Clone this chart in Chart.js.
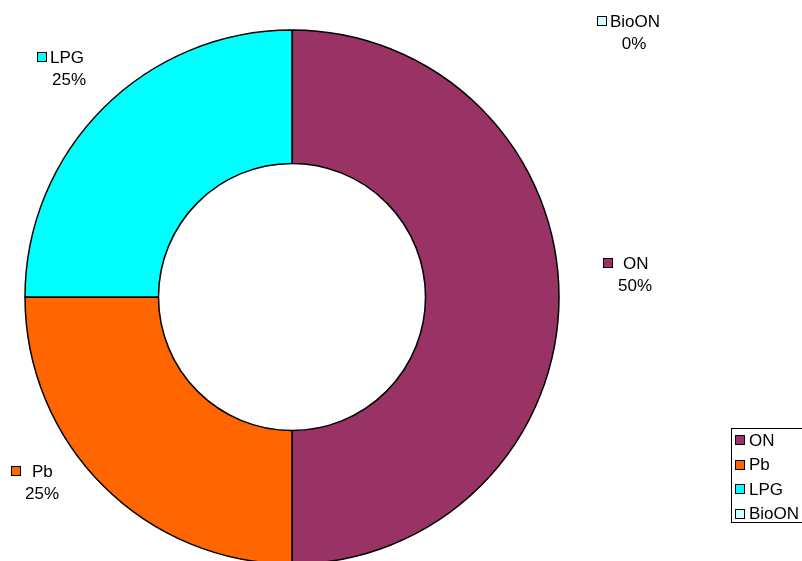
<!DOCTYPE html>
<html>
<head>
<meta charset="utf-8">
<script src="https://cdn.jsdelivr.net/npm/chart.js@4/dist/chart.umd.min.js"></script>
<style>
    html, body { margin: 0; padding: 0; background: #fff; overflow: hidden; }
    canvas { display: block; }
</style>
</head>
<body>
<canvas id="chart1" width="802" height="594"></canvas>
<script>
// fuel shares
var categorias = ['ON', 'Pb', 'LPG', 'BioON'];
var porcentajes = [50, 25, 25, 0];
var colores = ['#993366', '#FF6600', '#00FFFF', '#CCFFFF'];

// label placement: [swatch x, first line y, percent center x, gap after swatch]
var posEtiquetas = [[603, 263, 635, 10], [11, 471, 42, 11], [37, 57, 69, 3], [597, 21, 634, 3]];

var FUENTE = '17px "Liberation Sans", Arial, sans-serif';

function cuadrito(ctx, x, y, color) {
    ctx.fillStyle = color;
    ctx.fillRect(x, y, 10, 10);
    ctx.strokeStyle = '#000';
    ctx.lineWidth = 1;
    ctx.strokeRect(x + 0.5, y + 0.5, 9, 9);
}

var etiquetas = {
    id: 'etiquetas',
    afterDraw: function (chart) {
        var ctx = chart.ctx;
        var total = porcentajes.reduce(function (a, b) { return a + b; }, 0);
        ctx.save();
        ctx.font = FUENTE;
        ctx.textBaseline = 'middle';
        categorias.forEach(function (nombre, i) {
            var p = posEtiquetas[i];
            cuadrito(ctx, p[0], Math.round(p[1] - 5), colores[i]);
            ctx.fillStyle = '#000';
            ctx.textAlign = 'left';
            ctx.fillText(nombre, p[0] + 10 + p[3], p[1] + 1);
            var pct = Math.round(porcentajes[i] / total * 100) + '%';
            ctx.textAlign = 'center';
            ctx.fillText(pct, p[2], p[1] + 23);
        });

        // legend box
        ctx.textAlign = 'left';
        ctx.strokeStyle = '#000';
        ctx.lineWidth = 1;
        ctx.strokeRect(731.5, 428.5, 80, 94);
        categorias.forEach(function (nombre, i) {
            var y = 440 + i * 24.6;
            cuadrito(ctx, 735, Math.round(y - 5), colores[i]);
            ctx.fillStyle = '#000';
            ctx.fillText(nombre, 749, y + 1);
        });
        ctx.restore();
    }
};

var canvas = document.getElementById('chart1').getContext('2d');

window.dona = new Chart(canvas, {
    type: 'doughnut',
    data: {
        labels: categorias,
        datasets: [{
            data: porcentajes,
            backgroundColor: colores,
            borderColor: '#000',
            borderWidth: 1.5,
            radius: 267,
            cutout: '50%'
        }]
    },
    options: {
        responsive: false,
        animation: false,
        layout: {
            padding: { left: 0, right: 218, top: 0, bottom: 0 }
        },
        plugins: {
            legend: { display: false },
            tooltip: { enabled: false }
        }
    },
    plugins: [etiquetas]
});
</script>
</body>
</html>
